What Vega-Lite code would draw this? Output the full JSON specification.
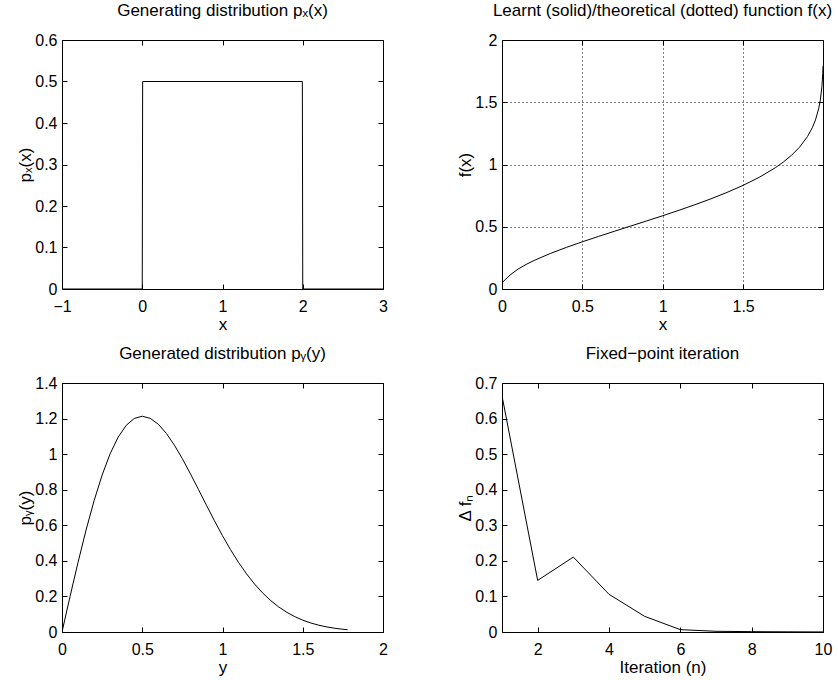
{
  "$schema": "https://vega.github.io/schema/vega-lite/v6.json",
  "background": "white",
  "padding": {"left": 16, "top": 1, "right": 5, "bottom": 5},
  "config": {
    "font": "Liberation Sans",
    "view": {"stroke": "black", "strokeWidth": 1},
    "axis": {"domain": false, "tickSize": -5, "tickColor": "black", "labelColor": "black", "labelFontSize": 16, "titleFontSize": 17, "titleFontWeight": "normal", "titleColor": "black", "grid": false, "labelOverlap": false, "labelFlush": false},
    "axisX": {"labelPadding": 14, "titlePadding": 2},
    "axisY": {"labelPadding": 10, "titlePadding": 0},
    "title": {"fontSize": 17, "fontWeight": "normal", "color": "black", "offset": 12}
  },
  "datasets": {
    "step": [
      {"i": 1, "x": -1, "y": 0}, {"i": 2, "x": 0, "y": 0}, {"i": 3, "x": 0.005, "y": 0.5}, {"i": 4, "x": 1.995, "y": 0.5}, {"i": 5, "x": 2, "y": 0}, {"i": 6, "x": 3, "y": 0}
    ],
    "f": [
      {"x": 0.005, "y": 0.056}, {"x": 0.02, "y": 0.075}, {"x": 0.05, "y": 0.1125}, {"x": 0.1, "y": 0.1601}, {"x": 0.15, "y": 0.1974}, {"x": 0.2, "y": 0.2295}, {"x": 0.3, "y": 0.2851}, {"x": 0.4, "y": 0.334}, {"x": 0.5, "y": 0.3792}, {"x": 0.6, "y": 0.4223}, {"x": 0.7, "y": 0.4641}, {"x": 0.8, "y": 0.5054}, {"x": 0.9, "y": 0.5467}, {"x": 1.0, "y": 0.5887}, {"x": 1.1, "y": 0.6319}, {"x": 1.2, "y": 0.6769}, {"x": 1.3, "y": 0.7245}, {"x": 1.4, "y": 0.7759}, {"x": 1.5, "y": 0.8326}, {"x": 1.6, "y": 0.8971}, {"x": 1.7, "y": 0.9739}, {"x": 1.75, "y": 1.0197}, {"x": 1.8, "y": 1.073}, {"x": 1.85, "y": 1.138}, {"x": 1.9, "y": 1.2239}, {"x": 1.93, "y": 1.2947}, {"x": 1.95, "y": 1.3581}, {"x": 1.97, "y": 1.4491}, {"x": 1.98, "y": 1.5174}, {"x": 1.99, "y": 1.6276}, {"x": 1.995, "y": 1.7308}, {"x": 1.9967, "y": 1.79}
    ],
    "py": [
      {"y": 0, "p": 0}, {"y": 0.05, "p": 0.199}, {"y": 0.1, "p": 0.392}, {"y": 0.15, "p": 0.5736}, {"y": 0.2, "p": 0.7385}, {"y": 0.25, "p": 0.8825}, {"y": 0.3, "p": 1.0024}, {"y": 0.35, "p": 1.0957}, {"y": 0.4, "p": 1.1618}, {"y": 0.45, "p": 1.2006}, {"y": 0.5, "p": 1.2131}, {"y": 0.55, "p": 1.2012}, {"y": 0.6, "p": 1.1683}, {"y": 0.65, "p": 1.1169}, {"y": 0.7, "p": 1.051}, {"y": 0.75, "p": 0.974}, {"y": 0.8, "p": 0.8896}, {"y": 0.85, "p": 0.8016}, {"y": 0.9, "p": 0.7128}, {"y": 0.95, "p": 0.6253}, {"y": 1.0, "p": 0.5413}, {"y": 1.05, "p": 0.4631}, {"y": 1.1, "p": 0.3912}, {"y": 1.15, "p": 0.3266}, {"y": 1.2, "p": 0.2695}, {"y": 1.25, "p": 0.2197}, {"y": 1.3, "p": 0.177}, {"y": 1.35, "p": 0.141}, {"y": 1.4, "p": 0.1111}, {"y": 1.45, "p": 0.0866}, {"y": 1.5, "p": 0.0666}, {"y": 1.55, "p": 0.0508}, {"y": 1.6, "p": 0.0382}, {"y": 1.65, "p": 0.0285}, {"y": 1.7, "p": 0.021}, {"y": 1.75, "p": 0.0153}, {"y": 1.78, "p": 0.0126}
    ],
    "fp": [
      {"n": 1, "d": 0.664}, {"n": 2, "d": 0.145}, {"n": 3, "d": 0.2106}, {"n": 4, "d": 0.106}, {"n": 5, "d": 0.044}, {"n": 6, "d": 0.0066}, {"n": 7, "d": 0.002}, {"n": 8, "d": 0.001}, {"n": 9, "d": 0.0005}, {"n": 10, "d": 0.0002}
    ]
  },
  "columns": 2,
  "spacing": {"row": 94, "column": 119},
  "bounds": "flush",
  "concat": [
    {
      "width": 321, "height": 249,
      "title": "Generating distribution pₓ(x)",
      "data": {"name": "step"},
      "layer": [
        {
          "mark": {"type": "line", "color": "black", "strokeWidth": 1, "clip": true},
          "encoding": {
            "x": {"field": "x", "type": "quantitative", "scale": {"domain": [-1, 3], "nice": false, "zero": false}, "axis": {"values": [-1, 0, 1, 2, 3], "title": "x", "orient": "bottom"}},
            "y": {"field": "y", "type": "quantitative", "scale": {"domain": [0, 0.6], "nice": false}, "axis": {"values": [0, 0.1, 0.2, 0.3, 0.4, 0.5, 0.6], "format": "~g", "title": "pₓ(x)", "orient": "left"}},
            "order": {"field": "i"}
          }
        },
        {
          "mark": {"type": "line", "opacity": 0},
          "encoding": {
            "x": {"field": "x", "type": "quantitative", "axis": {"values": [-1, 0, 1, 2, 3], "labels": false, "title": null, "orient": "top"}},
            "y": {"field": "y", "type": "quantitative", "axis": {"values": [0, 0.1, 0.2, 0.3, 0.4, 0.5, 0.6], "labels": false, "title": null, "orient": "right"}},
            "order": {"field": "i"}
          }
        }
      ],
      "resolve": {"axis": {"x": "independent", "y": "independent"}}
    },
    {
      "width": 321, "height": 249,
      "title": "Learnt (solid)/theoretical (dotted) function f(x)",
      "data": {"name": "f"},
      "layer": [
        {
          "mark": {"type": "line", "color": "black", "strokeWidth": 1, "clip": true},
          "encoding": {
            "x": {"field": "x", "type": "quantitative", "scale": {"domain": [0, 1.9967], "nice": false}, "axis": {"values": [0, 0.5, 1, 1.5], "format": "~g", "title": "x", "orient": "bottom", "grid": true, "gridDash": [1, 3], "gridColor": "black", "gridOpacity": 1}},
            "y": {"field": "y", "type": "quantitative", "scale": {"domain": [0, 2], "nice": false}, "axis": {"values": [0, 0.5, 1, 1.5, 2], "format": "~g", "title": "f(x)", "orient": "left", "grid": true, "gridDash": [1, 3], "gridColor": "black", "gridOpacity": 1}}
          }
        },
        {
          "mark": {"type": "line", "opacity": 0},
          "encoding": {
            "x": {"field": "x", "type": "quantitative", "axis": {"values": [0, 0.5, 1, 1.5], "labels": false, "title": null, "orient": "top"}},
            "y": {"field": "y", "type": "quantitative", "axis": {"values": [0, 0.5, 1, 1.5, 2], "labels": false, "title": null, "orient": "right"}}
          }
        }
      ],
      "resolve": {"axis": {"x": "independent", "y": "independent"}}
    },
    {
      "width": 321, "height": 249,
      "title": "Generated distribution pᵧ(y)",
      "data": {"name": "py"},
      "layer": [
        {
          "mark": {"type": "line", "color": "black", "strokeWidth": 1, "clip": true},
          "encoding": {
            "x": {"field": "y", "type": "quantitative", "scale": {"domain": [0, 2], "nice": false}, "axis": {"values": [0, 0.5, 1, 1.5, 2], "format": "~g", "title": "y", "orient": "bottom"}},
            "y": {"field": "p", "type": "quantitative", "scale": {"domain": [0, 1.4], "nice": false}, "axis": {"values": [0, 0.2, 0.4, 0.6, 0.8, 1, 1.2, 1.4], "format": "~g", "title": "pᵧ(y)", "orient": "left"}}
          }
        },
        {
          "mark": {"type": "line", "opacity": 0},
          "encoding": {
            "x": {"field": "y", "type": "quantitative", "axis": {"values": [0, 0.5, 1, 1.5, 2], "labels": false, "title": null, "orient": "top"}},
            "y": {"field": "p", "type": "quantitative", "axis": {"values": [0, 0.2, 0.4, 0.6, 0.8, 1, 1.2, 1.4], "labels": false, "title": null, "orient": "right"}}
          }
        }
      ],
      "resolve": {"axis": {"x": "independent", "y": "independent"}}
    },
    {
      "width": 321, "height": 249,
      "title": "Fixed−point iteration",
      "data": {"name": "fp"},
      "layer": [
        {
          "mark": {"type": "line", "color": "black", "strokeWidth": 1, "clip": true},
          "encoding": {
            "x": {"field": "n", "type": "quantitative", "scale": {"domain": [1, 10], "nice": false, "zero": false}, "axis": {"values": [2, 4, 6, 8, 10], "title": "Iteration (n)", "orient": "bottom"}},
            "y": {"field": "d", "type": "quantitative", "scale": {"domain": [0, 0.7], "nice": false}, "axis": {"values": [0, 0.1, 0.2, 0.3, 0.4, 0.5, 0.6, 0.7], "format": "~g", "title": "Δ fₙ", "orient": "left"}}
          }
        },
        {
          "mark": {"type": "line", "opacity": 0},
          "encoding": {
            "x": {"field": "n", "type": "quantitative", "axis": {"values": [2, 4, 6, 8, 10], "labels": false, "title": null, "orient": "top"}},
            "y": {"field": "d", "type": "quantitative", "axis": {"values": [0, 0.1, 0.2, 0.3, 0.4, 0.5, 0.6, 0.7], "labels": false, "title": null, "orient": "right"}}
          }
        }
      ],
      "resolve": {"axis": {"x": "independent", "y": "independent"}}
    }
  ]
}
